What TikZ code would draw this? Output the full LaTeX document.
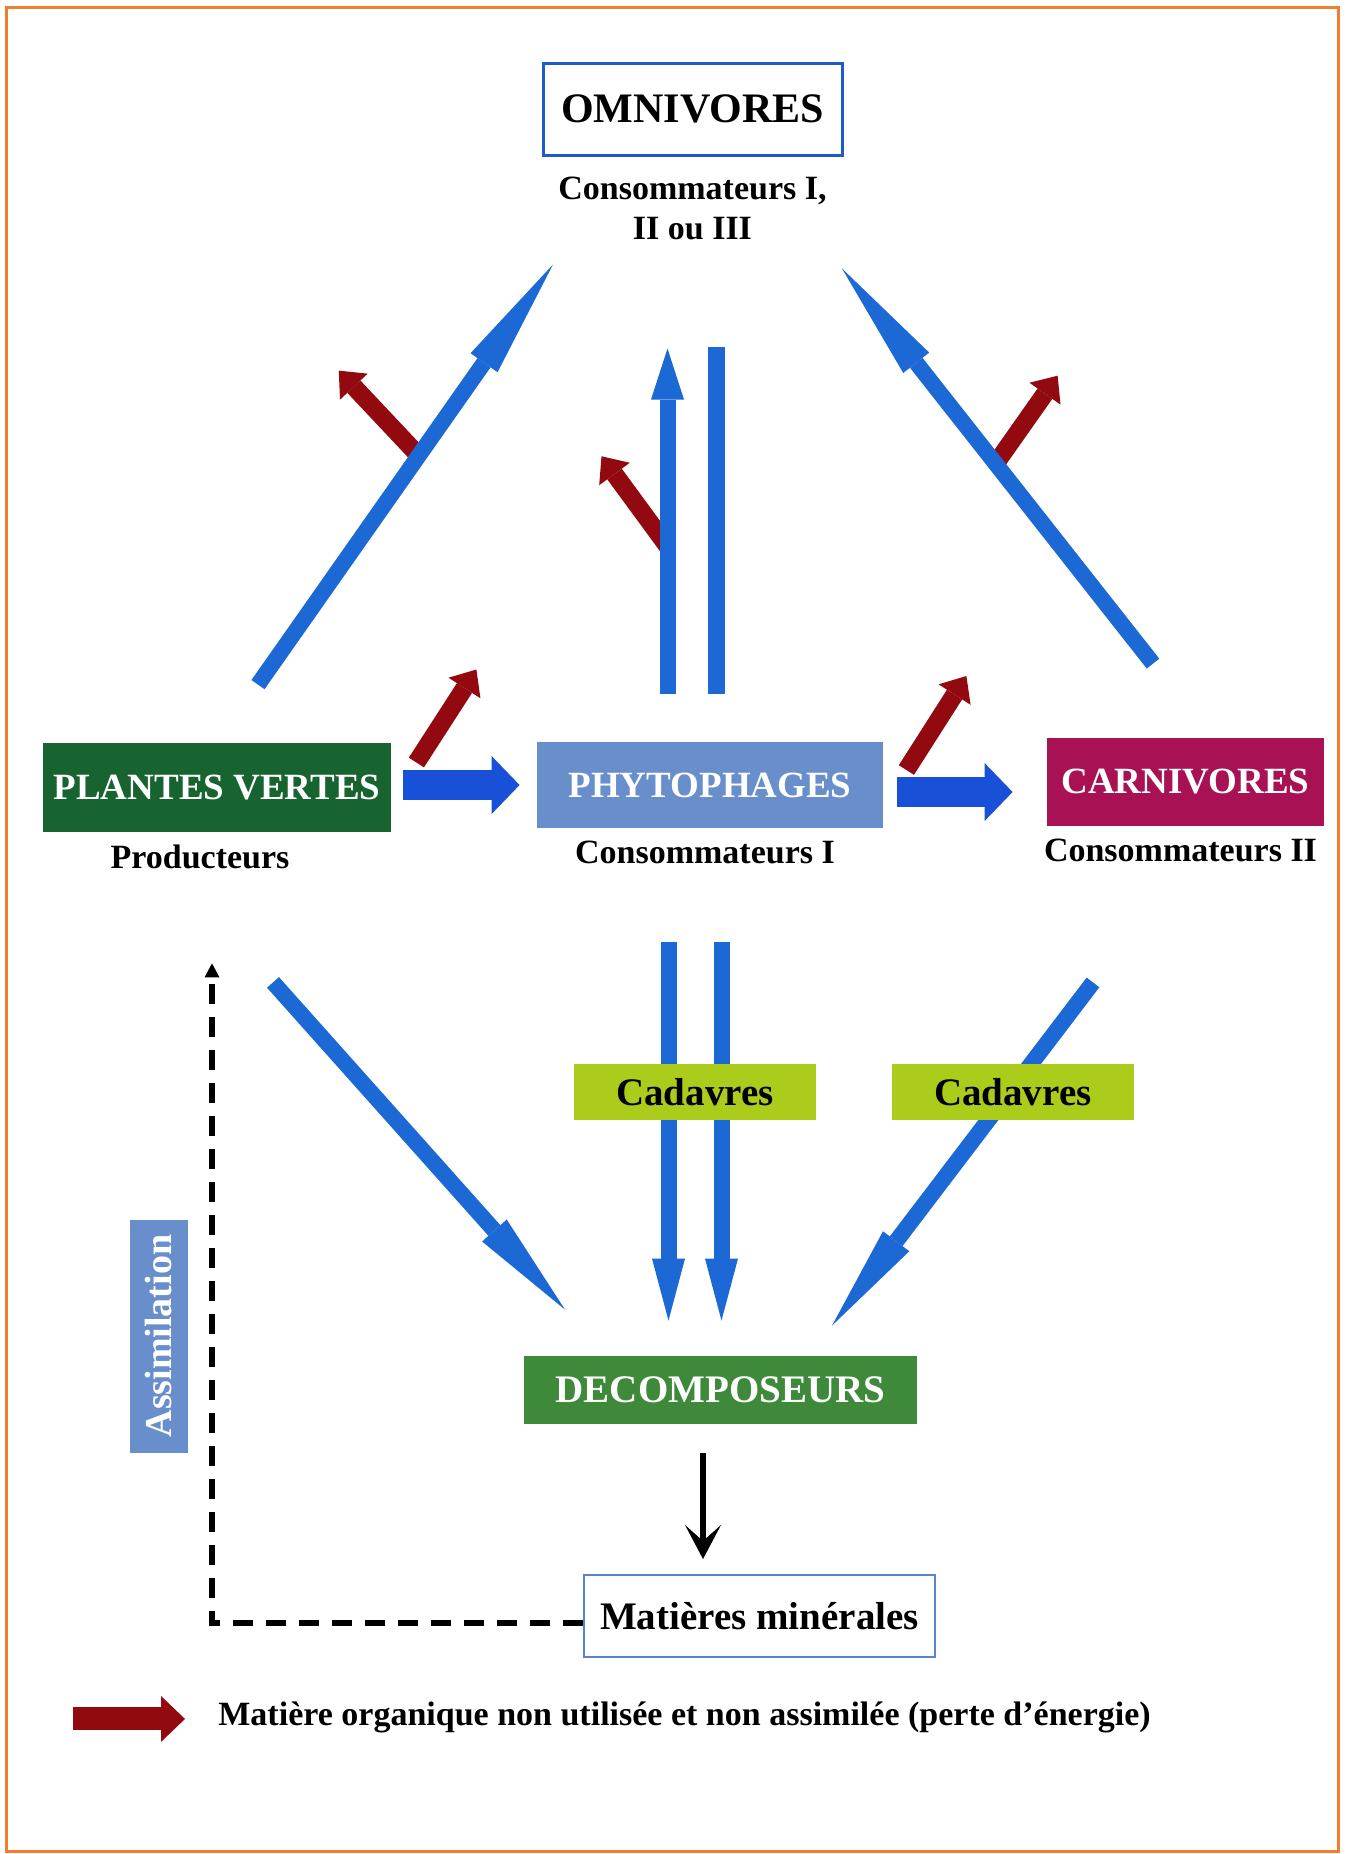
\documentclass[tikz,border=0pt]{standalone}
\usepackage{fontspec}
\setmainfont{Liberation Serif}
\usetikzlibrary{arrows.meta,positioning,calc}

\definecolor{plantgreen}{RGB}{24,100,48}
\definecolor{phytoblue}{RGB}{104,142,204}
\definecolor{carnired}{RGB}{168,18,84}
\definecolor{decompgreen}{RGB}{62,138,58}
\definecolor{cadavlime}{RGB}{172,204,28}
\definecolor{flowblue}{RGB}{28,104,212}
\definecolor{deepblue}{RGB}{24,80,216}
\definecolor{lossred}{RGB}{146,10,16}
\definecolor{omniblue}{RGB}{30,90,200}
\definecolor{minblue}{RGB}{84,132,210}
\definecolor{frameorange}{RGB}{240,126,46}

\begin{document}
\begin{tikzpicture}[x=0.5pt, y=-0.5pt,
  box/.style={inner sep=0pt, text=white, font=\fontsize{18.5}{22}\selectfont\bfseries},
  outlined/.style={inner sep=0pt, fill=white, font=\fontsize{19.5}{22}\selectfont\bfseries},
  sublabel/.style={inner sep=0pt, font=\fontsize{17}{20}\selectfont\bfseries},
  feed/.style={flowblue, line width=8pt, -{Triangle[length=#1, width=16.5pt, line width=0pt]}},
  feed/.default=60pt,
  plainbar/.style={flowblue, line width=8.5pt},
  push/.style={deepblue, line width=15pt, -{Triangle[length=14pt, width=29pt, line width=0pt]}},
  loss/.style={lossred, line width=9pt, -{Triangle[length=11pt, width=19pt, line width=0pt]}},
  recycle/.style={black, line width=3pt, dash pattern=on 10pt off 6.5pt, -{Triangle[length=7pt, width=7.5pt, line width=0pt]}},
  mineral/.style={black, line width=3pt, -{Stealth[length=17pt, width=18pt, inset=8pt, line width=0pt]}}]
  \useasboundingbox (0,0) rectangle (1349,1854);
  \draw[frameorange, line width=1.5pt] (6,7) rectangle (1338,1851);

  \node[outlined, draw=omniblue, line width=1.5pt, minimum width=149.5pt, minimum height=46pt,
        font=\fontsize{21}{24}\selectfont\bfseries] (omni) at (692.5,109) {OMNIVORES};
  \node[sublabel, align=center, below=10pt of omni] (omnilbl) {Consommateurs I,\\II ou III};

  \node[box, fill=plantgreen, minimum width=174pt, minimum height=44.5pt] (plantes) at (217,787.5) {PLANTES VERTES};
  \node[box, fill=phytoblue, minimum width=173pt, minimum height=43pt] (phyto) at (710,785) {PHYTOPHAGES};
  \node[box, fill=carnired, minimum width=138.5pt, minimum height=44pt] (carni) at (1185.5,782) {CARNIVORES};
  \node[sublabel, below=6pt of plantes, xshift=-8.5pt] (prod) {Producteurs};
  \node[sublabel, below=6pt of phyto, xshift=-2.5pt] (cons1) {Consommateurs I};
  \node[sublabel, below=6pt of carni, xshift=-2.5pt] (cons2) {Consommateurs II};

  \node[box, fill=decompgreen, minimum width=196.5pt, minimum height=34pt,
        font=\fontsize{19.5}{22}\selectfont\bfseries] (decomp) at (720.5,1390) {DECOMPOSEURS};
  \node[outlined, draw=minblue, line width=1pt, minimum width=175.5pt, minimum height=41pt] (miner) at (759.5,1616) {Matières minérales};
  \node[box, fill=phytoblue, rotate=90, minimum width=116.5pt, minimum height=29pt,
        font=\fontsize{19}{22}\selectfont\bfseries] (assim) at (159,1336) {Assimilation};

  % ends of the blue fluxes
  \coordinate (pvT) at ($(plantes.north)+(41,-58)$);
  \coordinate (pvH) at ($(omni.south)+(-139.5,108)$);
  \coordinate (caT) at ($(carni.north)+(-32.5,-74)$);
  \coordinate (caH) at ($(omni.south)+(149.5,112)$);
  \coordinate (phT) at ($(phyto.north)+(-42.5,-48)$);
  \coordinate (phH) at ($(omni.south)+(-25,192)$);
  \coordinate (pdT) at ($(plantes.south)+(56,150)$);
  \coordinate (pdH) at ($(decomp.north)+(-155.5,-46)$);
  \coordinate (cdT) at ($(carni.south)+(-92.5,156)$);
  \coordinate (cdH) at ($(decomp.north)+(111.5,-30)$);

  % energy losses
  \draw[loss] ($(pvT)!0.545!(pvH)$) -- ++(-80,-85);
  \draw[loss] ($(phT)!0.427!(phH)$) -- ++(-66,-90);
  \draw[loss] ($(caT)!0.506!(caH)$) -- ++(62,-88);
  \draw[loss] ($(plantes.east)+(25,-25)$) -- ++(60,-93);
  \draw[loss] ($(phyto.east)+(23,-15)$) -- ++(60,-94);

  \draw[feed] (pvT) -- (pvH);
  \draw[feed] (caT) -- (caH);
  \draw[feed=25.5pt] (phT) -- (phH);
  \draw[plainbar] ($(phyto.north)+(6.5,-48)$) -- ($(omni.south)+(24,190)$);
  \draw[feed=53pt] (pdT) -- (pdH);
  \draw[feed=53pt] (cdT) -- (cdH);
  \draw[feed=31pt] ($(phyto.south)+(-41.5,114)$) -- ($(decomp.north)+(-52,-35)$);
  \draw[feed=31pt] ($(phyto.south)+(11.5,114)$) -- ($(decomp.north)+(1,-35)$);
  \draw[push] ($(plantes.east)+(12,-2.5)$) -- ($(phyto.west)+(-17,0)$);
  \draw[push] ($(phyto.east)+(14,7)$) -- ($(carni.west)+(-34,10)$);

  \node[box, fill=cadavlime, text=black, minimum width=121pt, minimum height=28pt,
        font=\fontsize{19.5}{22}\selectfont\bfseries] (cad1) at (695,1092) {Cadavres};
  \node[box, fill=cadavlime, text=black, minimum width=121pt, minimum height=28pt,
        font=\fontsize{19.5}{22}\selectfont\bfseries, right=37.5pt of cad1] (cad2) {Cadavres};

  \draw[mineral] ($(decomp.south)+(-17.5,29)$) -- ($(miner.north)+(-56.5,-15)$);
  \draw[recycle] ($(miner.west)+(0,7)$) -| ($(plantes.south)+(-5,131)$);

  % legend
  \node[sublabel, anchor=base west] (legend) at (218,1725) {Matière organique non utilisée et non assimilée (perte d’énergie)};
  \draw[loss, line width=11.5pt, -{Triangle[length=12pt, width=23pt, line width=0pt]}]
    ($(legend.west)+(-145,2)$) -- ($(legend.west)+(-33,2)$);
\end{tikzpicture}
\end{document}
